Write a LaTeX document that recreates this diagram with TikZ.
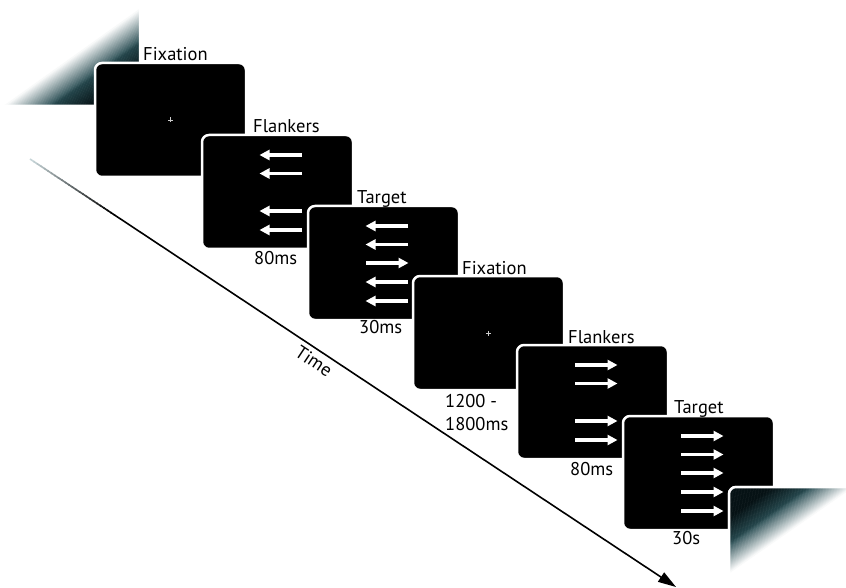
\documentclass[tikz,border=0pt]{standalone}
\usepackage{fontspec}
\setmainfont{PT Sans}
\usetikzlibrary{arrows.meta,calc}

\definecolor{fadedark}{RGB}{6,18,21}
\definecolor{fademid}{RGB}{40,76,82}
\definecolor{linefade}{RGB}{200,214,217}

\tikzset{
  screen/.style={rectangle, draw=white, fill=black, line width=2.5pt,
    rounded corners=7pt, minimum width=151pt, minimum height=114pt,
    inner sep=0pt, outer sep=0pt},
  screenedge/.style={draw=white, line width=2.5pt, rounded corners=7pt},
  stimarrow/.style={draw=white, line width=3.6pt, -{Triangle[length=10pt,width=10pt]}},
  fixcross/.style={draw=white!80!black, line width=0.6pt},
  steplabel/.style={font=\fontsize{18.5}{23}\selectfont, inner sep=0pt, anchor=base west},
  timeline/.style={draw=black, line width=1.6pt, -{Triangle[length=18pt,width=11pt]}},
}

% Diagonal fade inside a screen corner: dark at #1, white on the line #2--#3
\newcommand\fadecorner[3]{%
  \foreach \i in {0,...,79}{%
    \pgfmathsetmacro\ta{\i/80}%
    \pgfmathsetmacro\tb{(\i+1.4)/80}%
    \pgfmathsetmacro\pa{max(0,min(100,(\ta-0.35)/0.33*100))}%
    \pgfmathsetmacro\pb{max(0,min(100,(\ta-0.64)/0.36*100))}%
    \colorlet{bandtmp}{fademid!\pa!fadedark}%
    \colorlet{bandcol}{white!\pb!bandtmp}%
    \fill[bandcol] ($(#1)!\ta!(#2)$) -- ($(#1)!\tb!(#2)$) -- ($(#1)!\tb!(#3)$) -- ($(#1)!\ta!(#3)$) -- cycle;
  }%
}

\begin{document}
\begin{tikzpicture}[x=1pt, y=-1pt]
  \clip (0,0) rectangle (846,588);
  \fill[white] (0,0) rectangle (846,588);

  % time axis, fading in at its start
  \coordinate (tstart) at (30,159);
  \coordinate (tend) at (676,587);
  \coordinate (tsolid) at ($(tstart)!0.13!(tend)$);
  \foreach \i in {0,...,23}{%
    \pgfmathsetmacro\ta{0.13*\i/24}%
    \pgfmathsetmacro\tb{0.13*(\i+1.3)/24}%
    \pgfmathsetmacro\pc{100*\i/23}%
    \draw[black!\pc!linefade, line width=1.6pt] ($(tstart)!\ta!(tend)$) -- ($(tstart)!\tb!(tend)$);
  }
  \draw[timeline] (tsolid) -- (tend);
  \node[steplabel, anchor=center, rotate=-33.6] (timelabel) at (314,361) {Time};

  % leading screen, faded out
  \node[screen, fill=none, draw=none] (s0) at (64.5,49) {};
  \coordinate (f0c) at (s0.south east);
  \coordinate (f0a) at ($(s0.south east)+(-136,0)$);
  \coordinate (f0b) at ($(s0.south east)+(0,-97)$);
  \begin{scope}
    \clip[rounded corners=7pt] (s0.north west) rectangle (s0.south east);
    \fadecorner{f0c}{f0a}{f0b}
  \end{scope}
  \draw[screenedge] (s0.north west) rectangle (s0.south east);

  % trial screens
  \node[screen] (s1) at (170.5,120) {};
  \node[screen] (s2) at (277.5,192) {};
  \node[screen] (s3) at (383.5,263) {};
  \node[screen] (s4) at (488.5,333) {};
  \node[screen] (s5) at (592.5,402) {};
  \node[screen] (s6) at (698.5,473) {};

  % trailing screen, faded out
  \node[screen, fill=white] (s7) at (804.5,544) {};
  \coordinate (f7c) at (s7.north west);
  \coordinate (f7a) at ($(s7.north west)+(124,0)$);
  \coordinate (f7b) at ($(s7.north west)+(0,86)$);
  \begin{scope}
    \clip[rounded corners=7pt] (s7.north west) rectangle (s7.south east);
    \fadecorner{f7c}{f7a}{f7b}
  \end{scope}
  \draw[screenedge] (s7.north west) rectangle (s7.south east);

  % fixation crosses
  \foreach \s in {s1,s4}{
    \draw[fixcross] ($(\s.center)+(-2.5,0)$) -- ++(5,0)
                    ($(\s.center)+(0,-2.5)$) -- ++(0,5);
  }

  % flanker screens (no centre arrow)
  \foreach \r in {-37,-18.5,19,38}{
    \draw[stimarrow] ($(s2.center)+(24.5,\r)$) -- ++(-42.5,0);
    \draw[stimarrow] ($(s5.center)+(-17.5,\r)$) -- ++(42.5,0);
  }
  % incongruent target
  \foreach \r in {-37,-18.5,19,38}{
    \draw[stimarrow] ($(s3.center)+(24.5,\r)$) -- ++(-42.5,0);
  }
  \draw[stimarrow] ($(s3.center)+(-17.5,0)$) -- ++(42.5,0);
  % congruent target
  \foreach \r in {-37,-18.5,0,19,38}{
    \draw[stimarrow] ($(s6.center)+(-17.5,\r)$) -- ++(42.5,0);
  }

  % event names
  \node[steplabel] (n1) at (143,61) {Fixation};
  \node[steplabel] (n2) at (253,133) {Flankers};
  \node[steplabel] (n3) at (357,204) {Target};
  \node[steplabel] (n4) at (462,274) {Fixation};
  \node[steplabel] (n5) at (568,343) {Flankers};
  \node[steplabel] (n6) at (674,413) {Target};

  % durations
  \node[steplabel] (d2) at (254,265) {80ms};
  \node[steplabel] (d3) at (359,333) {30ms};
  \node[steplabel] (d4a) at (445,407) {1200 -};
  \node[steplabel] (d4b) at (445,430) {1800ms};
  \node[steplabel] (d5) at (570,475) {80ms};
  \node[steplabel] (d6) at (672,544) {30s};
\end{tikzpicture}
\end{document}
